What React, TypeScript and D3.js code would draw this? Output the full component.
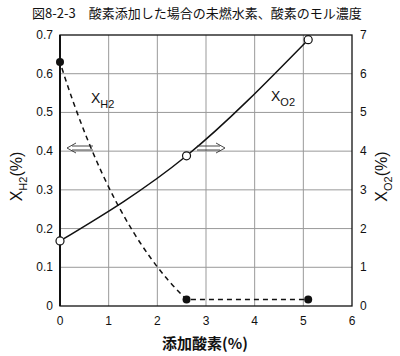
import React from "react";
import * as d3 from "d3";

const xTicks = [0, 1, 2, 3, 4, 5, 6];
const yLeftTicks = [0, 0.1, 0.2, 0.3, 0.4, 0.5, 0.6, 0.7];
const yRightTicks = [0, 1, 2, 3, 4, 5, 6, 7];
const h2X = [0, 2.6, 5.1];
const h2Y = [0.63, 0.017, 0.017];
const o2X = [0, 2.6, 5.1];
const o2Y = [1.68, 3.88, 6.88];
// tangent intersection for the H2 decay curve (start slope, end slope)
const h2Ctrl = [1.07, 0.2];

const W = 400, H = 356;
const L = 60, R = 352, T = 35, B = 306;

export default function App() {
  const x = d3.scaleLinear().domain([0, 6]).range([L, R]);
  const yL = d3.scaleLinear().domain([0, 0.7]).range([B, T]);
  const yR = d3.scaleLinear().domain([0, 7]).range([B, T]);
  const h2 = h2X.map((v, i) => [v, h2Y[i]] as [number, number]);
  const o2 = o2X.map((v, i) => [v, o2Y[i]] as [number, number]);
  const p = d3.path();
  p.moveTo(x(h2[0][0]), yL(h2[0][1]));
  p.quadraticCurveTo(x(h2Ctrl[0]), yL(h2Ctrl[1]), x(h2[1][0]), yL(h2[1][1]));
  p.lineTo(x(h2[2][0]), yL(h2[2][1]));
  const lineO2 = d3.line<[number, number]>().x(d => x(d[0])).y(d => yR(d[1])).curve(d3.curveMonotoneX);
  const font = "'Liberation Sans', Arial, sans-serif";
  const jp = "'Noto Sans CJK JP', sans-serif";
  return (
    <svg width={W} height={H} style={{ position: "absolute", left: 0, top: 0, background: "#fff" }}>
      <text x={32} y={18} fontFamily={jp} fontSize={13} fill="#111">図8-2-3　酸素添加した場合の未燃水素、酸素のモル濃度</text>
      {xTicks.slice(1, -1).map(t => (
        <line key={"gx" + t} x1={x(t)} x2={x(t)} y1={T} y2={B} stroke="#999" strokeWidth={1} />
      ))}
      {yLeftTicks.slice(1, -1).map(t => (
        <line key={"gy" + t} x1={L} x2={R} y1={yL(t)} y2={yL(t)} stroke="#999" strokeWidth={1} />
      ))}
      <rect x={L} y={T} width={R - L} height={B - T} fill="none" stroke="#111" strokeWidth={1.3} />
      <line x1={L} x2={L} y1={T} y2={B} stroke="#111" strokeWidth={2} />
      {yLeftTicks.map(t => (
        <text key={"yl" + t} x={53} y={yL(t) + 4} textAnchor="end" fontFamily={font} fontSize={12} fill="#111">{t === 0 ? "0" : t.toFixed(1)}</text>
      ))}
      {yRightTicks.map(t => (
        <text key={"yr" + t} x={360} y={yR(t) + 4} textAnchor="start" fontFamily={font} fontSize={12} fill="#111">{t}</text>
      ))}
      {xTicks.map(t => (
        <text key={"xt" + t} x={x(t)} y={325} textAnchor="middle" fontFamily={font} fontSize={12} fill="#111">{t}</text>
      ))}
      <path d={p.toString()} fill="none" stroke="#111" strokeWidth={1.5} strokeDasharray="5,4" strokeDashoffset={-6} />
      <path d={lineO2(o2) || ""} fill="none" stroke="#111" strokeWidth={1.5} />
      {h2.map((d, i) => (
        <circle key={"h" + i} cx={x(d[0])} cy={yL(d[1])} r={4} fill="#111" />
      ))}
      {o2.map((d, i) => (
        <circle key={"o" + i} cx={x(d[0])} cy={yR(d[1])} r={4} fill="#fff" stroke="#111" strokeWidth={1.2} />
      ))}
      <text x={91} y={103} fontFamily={font} fontSize={14} fill="#111">X<tspan dy={5} fontSize={11}>H2</tspan></text>
      <text x={271} y={101} fontFamily={font} fontSize={14} fill="#111">X<tspan dy={5} fontSize={11}>O2</tspan></text>
      <path d="M76,143 L67,148 L76,153 M72,146 L93,146 M72,150 L93,150" fill="none" stroke="#333" strokeWidth={0.9} />
      <path d="M216,143 L225,148 L216,153 M197,146 L220,146 M197,150 L220,150" fill="none" stroke="#333" strokeWidth={0.9} />
      <text transform={`translate(22,${(T + B) / 2 + 6}) rotate(-90)`} textAnchor="middle" fontFamily={font} fontSize={16} fill="#111">X<tspan dy={5} fontSize={11}>H2</tspan><tspan dy={-5}>(%)</tspan></text>
      <text transform={`translate(387,${(T + B) / 2 + 6}) rotate(-90)`} textAnchor="middle" fontFamily={font} fontSize={16} fill="#111">X<tspan dy={5} fontSize={11}>O2</tspan><tspan dy={-5}>(%)</tspan></text>
      <text x={205} y={349} textAnchor="middle" fontFamily={jp} fontSize={15} fontWeight="bold" fill="#111">添加酸素(%)</text>
    </svg>
  );
}
